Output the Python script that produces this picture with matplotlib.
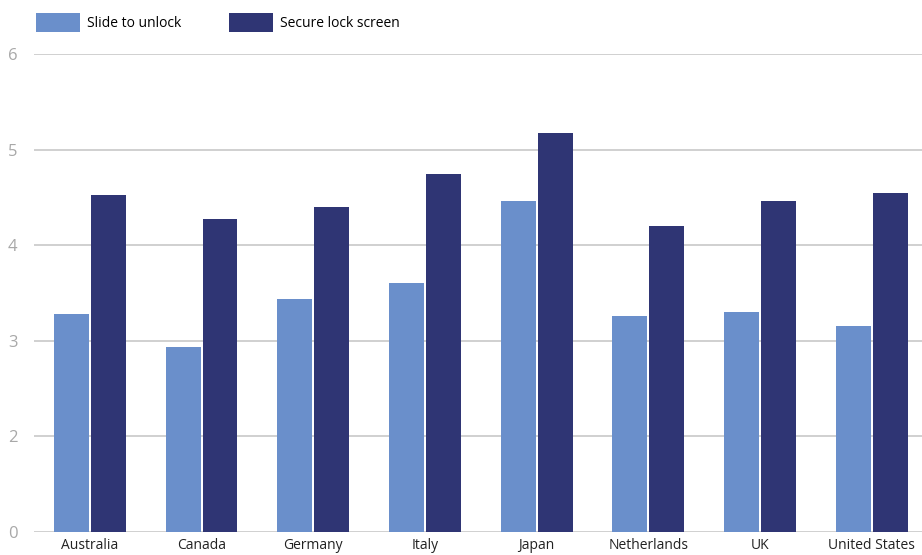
import numpy as np
import matplotlib.pyplot as plt

countries = ['Australia', 'Canada', 'Germany', 'Italy', 'Japan',
             'Netherlands', 'UK', 'United States']
slide_to_unlock = [3.28, 2.94, 3.44, 3.60, 4.46, 3.26, 3.30, 3.16]
secure_lock = [4.53, 4.27, 4.40, 4.75, 5.17, 4.20, 4.46, 4.55]
ytick_vals = [1, 2, 3, 4, 5, 6]
ytick_labels = ['0', '2', '3', '4', '5', '6']

plt.rcParams['font.family'] = ['Open Sans', 'DejaVu Sans']

fig = plt.figure(figsize=(9.22, 5.55), dpi=100)
ax = fig.add_axes([34 / 922, 1 - 532 / 555, 1 - 34 / 922, (532 - 54) / 555])

x = np.arange(len(countries))
w = 0.3125
off = 0.165
ax.bar(x - off, slide_to_unlock, w, color='#6A8FCB', label='Slide to unlock', zorder=3)
ax.bar(x + off, secure_lock, w, color='#2F3574', label='Secure lock screen', zorder=3)

ax.set_ylim(1, 6)
ax.set_xlim(-0.5, 7.45)
ax.set_yticks(ytick_vals)
ax.set_yticklabels(ytick_labels, color='#A8A8A8', fontsize=12)
ax.set_xticks(x)
ax.set_xticklabels(countries, color='#222222', fontsize=10)
ax.tick_params(axis='both', length=0)
ax.tick_params(axis='y', pad=12)
ax.tick_params(axis='x', pad=4)
ax.grid(axis='y', color='#C8C8C8', linewidth=1.2, zorder=0)
for s in ax.spines.values():
    s.set_visible(False)

ax.legend(loc='upper left', bbox_to_anchor=(36 / 922, 1 - 13 / 555), bbox_transform=fig.transFigure,
          ncol=2, frameon=False, fontsize=10, handlelength=3.2, handleheight=1.75,
          handletextpad=0.5, columnspacing=3.4, borderaxespad=0, borderpad=0)

fig.savefig('out.png', dpi=100)
